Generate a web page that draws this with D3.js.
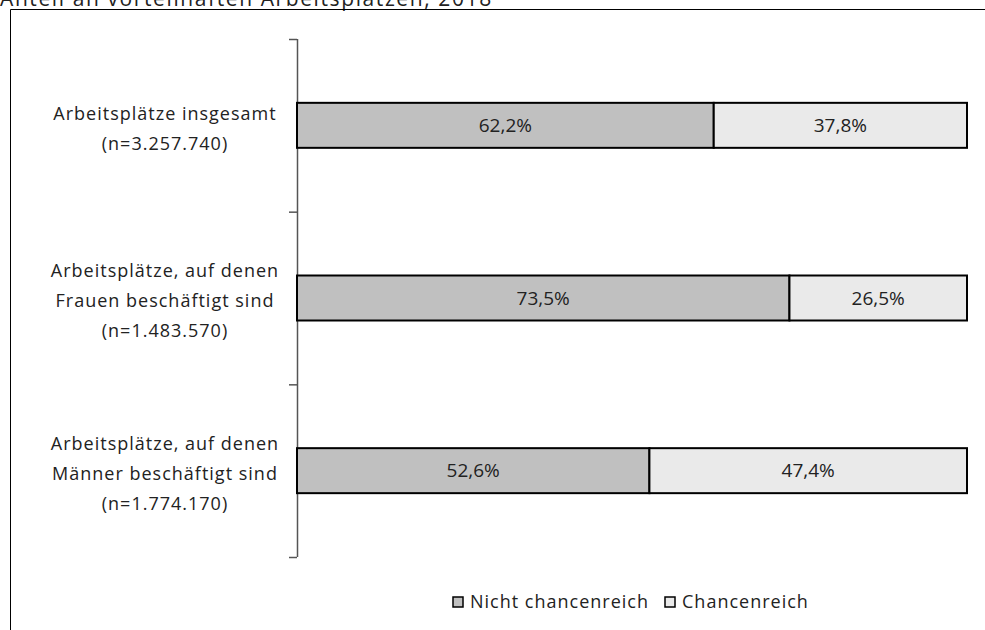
<!DOCTYPE html>
<html>
<head>
<meta charset="utf-8">
<script src="https://cdn.jsdelivr.net/npm/d3@7"></script>
<style>
  body { margin: 0; background: #fff; }
  svg { display: block; font-family: "Open Sans", "DejaVu Sans", sans-serif; }
</style>
</head>
<body>
<div class="viewbox"></div>
<script>
// values
const categories = [
  ["Arbeitsplätze insgesamt", "(n=3.257.740)"],
  ["Arbeitsplätze, auf denen", "Frauen beschäftigt sind", "(n=1.483.570)"],
  ["Arbeitsplätze, auf denen", "Männer beschäftigt sind", "(n=1.774.170)"]
];
const nichtChancenreich = [62.2, 73.5, 52.6];
const chancenreich = [37.8, 26.5, 47.4];
const seriesNames = ["Nicht chancenreich", "Chancenreich"];
const seriesColors = ["#c0c0c0", "#eaeaea"];

const svg_width = 985;
const svg_height = 630;

let svg = d3.select(".viewbox")
  .append("svg")
  .attr("width", svg_width)
  .attr("height", svg_height);

// title, cut off at the top like in the source image
svg.append("text")
  .attr("x", 0)
  .attr("y", 6)
  .attr("font-size", 21)
  .attr("letter-spacing", 1.6)
  .attr("fill", "#222")
  .text("Anteil an vorteilhaften Arbeitsplätzen, 2018");

// outer frame (runs off the right and bottom edge)
svg.append("path")
  .attr("d", "M10.5," + (svg_height + 2) + "V9.5H" + (svg_width + 2))
  .attr("fill", "none")
  .attr("stroke", "#000")
  .attr("stroke-width", 1);

const x = d3.scaleLinear().domain([0, 100]).range([297, 967]);
const y = d3.scaleBand().domain(d3.range(categories.length)).range([39, 557]).paddingInner(0).paddingOuter(0);
const barH = 45;

// axis line + ticks between categories
const tickYs = d3.range(categories.length + 1).map(i => i < categories.length ? y(i) : y.range()[1]);
svg.append("line")
  .attr("x1", x(0) + 0.5).attr("x2", x(0) + 0.5)
  .attr("y1", tickYs[0]).attr("y2", tickYs[tickYs.length - 1])
  .attr("stroke", "#555").attr("stroke-width", 1.5);
svg.selectAll(".tick")
  .data(tickYs)
  .enter()
  .append("line")
  .attr("x1", x(0) - 8).attr("x2", x(0))
  .attr("y1", d => d + 0.5).attr("y2", d => d + 0.5)
  .attr("stroke", "#555").attr("stroke-width", 1.5);

// stack the two series
const rows = categories.map((c, i) => ({ i: i, a: nichtChancenreich[i], b: chancenreich[i] }));
const stacked = d3.stack().keys(["a", "b"])(rows);

let groups = svg.selectAll(".serie")
  .data(stacked)
  .enter()
  .append("g")
  .attr("class", "serie");

groups.each(function (s, si) {
  let g = d3.select(this);
  g.selectAll("rect")
    .data(s)
    .enter()
    .append("rect")
    .attr("x", d => x(d[0]))
    .attr("width", d => x(d[1]) - x(d[0]))
    .attr("y", (d, i) => y(i) + y.bandwidth() / 2 - barH / 2)
    .attr("height", barH)
    .attr("fill", seriesColors[si])
    .attr("stroke", "#000")
    .attr("stroke-width", 2);
  g.selectAll("text")
    .data(s)
    .enter()
    .append("text")
    .attr("x", d => (x(d[0]) + x(d[1])) / 2)
    .attr("y", (d, i) => y(i) + y.bandwidth() / 2)
    .attr("dy", "0.35em")
    .attr("text-anchor", "middle")
    .attr("font-size", 19)
    .attr("fill", "#222")
    .text(d => (d[1] - d[0]).toFixed(1).replace(".", ",") + "%");
});

// category labels
svg.selectAll(".cat")
  .data(categories)
  .enter()
  .append("text")
  .attr("class", "cat")
  .attr("text-anchor", "middle")
  .attr("font-size", 18)
  .attr("letter-spacing", 1)
  .attr("fill", "#222")
  .each(function (lines, i) {
    let t = d3.select(this);
    let cy = y(i) + y.bandwidth() / 2 + 3;
    lines.forEach((ln, k) => {
      t.append("tspan")
        .attr("x", 165)
        .attr("y", cy + (k - (lines.length - 1) / 2) * 30)
        .attr("dy", "0.35em")
        .text(ln);
    });
  });

// legend
const legendX = [453, 665];
let legend = svg.selectAll(".legend")
  .data(seriesNames)
  .enter()
  .append("g")
  .attr("class", "legend")
  .attr("transform", (d, i) => "translate(" + legendX[i] + ",597)");
legend.append("rect")
  .attr("width", 10).attr("height", 10)
  .attr("fill", (d, i) => seriesColors[i])
  .attr("stroke", "#000").attr("stroke-width", 1.5);
legend.append("text")
  .attr("x", 17).attr("y", 5).attr("dy", "0.35em")
  .attr("font-size", 18)
  .attr("letter-spacing", 1)
  .attr("fill", "#222")
  .text(d => d);
</script>
</body>
</html>
